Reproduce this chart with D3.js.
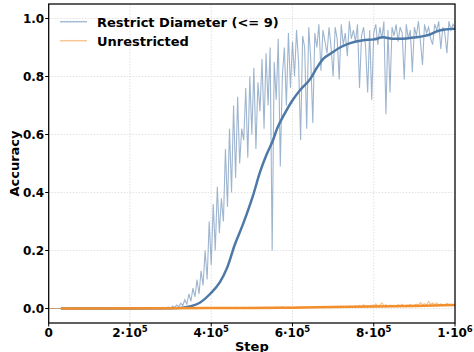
<!DOCTYPE html>
<html>
<head>
<meta charset="utf-8">
<script src="https://d3js.org/d3.v7.min.js"></script>
<style>
  body { margin: 0; background: #fff; }
  text { font-family: "DejaVu Sans", sans-serif; font-weight: bold; }
</style>
</head>
<body>
<div id="chart"></div>
<script>
// raw logging: one value every 5000 steps from 0 to 1e6
const rawStepEvery = 5000;
const restrictRaw = [
  0,0,0,0,0,0,0,0,0,0,
  0,0,0,0,0,0,0,0,0,0,
  0,0,0,0,0,0,0,0,0,0,
  0,0,0,0,0,0,0,0,0,0,
  0,0,0,0,0,0.002,0,0,0,0,
  0,0.003,0,0,0.002,0,0.004,0,0.003,0.005,
  0.002,0.008,0.004,0.012,0.006,0.018,0.01,0.03,0.015,0.05,
  0.025,0.07,0.04,0.1,0.05,0.13,0.08,0.2,0.1,0.3,
  0.15,0.36,0.2,0.42,0.26,0.38,0.3,0.55,0.35,0.62,
  0.4,0.7,0.45,0.73,0.5,0.62,0.58,0.76,0.52,0.8,
  0.6,0.83,0.55,0.78,0.68,0.86,0.62,0.88,0.7,0.9,
  0.2,0.85,0.72,0.93,0.49,0.8,0.9,0.7,0.95,0.76,
  0.92,0.8,0.96,0.85,0.58,0.94,0.9,0.62,0.97,0.86,
  0.64,0.95,0.9,0.98,0.82,0.96,0.92,0.88,0.97,0.9,
  0.8,0.97,0.93,0.79,0.98,0.91,0.95,0.87,0.99,0.93,
  0.96,0.92,0.98,0.76,0.94,0.97,0.9,0.745,0.96,0.72,
  0.95,0.98,0.91,0.97,0.93,0.99,0.67,0.96,0.745,0.97,
  0.94,0.98,0.92,0.97,0.95,0.79,0.98,0.93,0.96,0.815,
  0.97,0.94,0.99,0.92,0.84,0.98,0.95,0.97,0.93,0.91,
  0.98,0.96,0.99,0.895,0.97,0.95,0.88,0.99,0.96,0.98,
  0.97
];
const unrestrictedRaw = [
  0,0,0,0,0,0,0,0,0,0,
  0,0,0,0,0,0,0,0,0,0,
  0,0,0,0,0,0,0,0,0,0,
  0,0,0,0,0,0,0,0,0,0,
  0,0.001,0,0,0.001,0,0,0.001,0,0.001,
  0.001,0,0.001,0.002,0.001,0,0.001,0.002,0.001,0.001,
  0.001,0.002,0.001,0.002,0.003,0.001,0.002,0.002,0.001,0.003,
  0.002,0.001,0.003,0.002,0.002,0.003,0.001,0.002,0.003,0.002,
  0.002,0.003,0.002,0.004,0.002,0.003,0.002,0.003,0.004,0.002,
  0.003,0.002,0.004,0.003,0.002,0.003,0.004,0.002,0.003,0.004,
  0.003,0.004,0.002,0.005,0.003,0.004,0.003,0.005,0.003,0.004,
  0.004,0.003,0.005,0.004,0.003,0.006,0.004,0.003,0.005,0.004,
  0.004,0.005,0.003,0.006,0.004,0.005,0.004,0.006,0.005,0.004,
  0.005,0.004,0.007,0.005,0.006,0.004,0.006,0.005,0.007,0.005,
  0.006,0.005,0.007,0.006,0.008,0.005,0.007,0.006,0.008,0.006,
  0.007,0.009,0.006,0.011,0.007,0.013,0.008,0.01,0.007,0.012,
  0.009,0.016,0.008,0.011,0.019,0.009,0.013,0.008,0.012,0.01,
  0.011,0.009,0.013,0.01,0.015,0.009,0.012,0.011,0.014,0.01,
  0.012,0.015,0.011,0.021,0.013,0.017,0.012,0.024,0.014,0.019,
  0.013,0.02,0.012,0.016,0.014,0.011,0.018,0.013,0.015,0.012,
  0.014
];

// smoothed curves (rolling mean, starts after the window fills)
const restrictSmoothSteps = [30000,100000,200000,300000,330000,350000,372000,397000,421000,439000,458000,478000,503000,520000,536000,552000,562000,580000,601000,620000,643000,660000,675000,695000,717000,742000,774000,800000,823000,845000,865000,885000,906000,925000,938000,956000,975000,1000000];
const restrictSmooth = [0,0,0,0.001,0.003,0.008,0.02,0.05,0.09,0.14,0.22,0.29,0.39,0.47,0.53,0.58,0.62,0.67,0.72,0.755,0.79,0.83,0.86,0.88,0.9,0.915,0.925,0.928,0.935,0.93,0.93,0.932,0.935,0.94,0.945,0.956,0.962,0.965];
const unrestrictedSmoothSteps = [30000,300000,500000,600000,700000,800000,900000,1000000];
const unrestrictedSmooth = [0,0.001,0.002,0.003,0.005,0.007,0.009,0.012];

const seriesNames = ["Restrict Diameter (<= 9)", "Unrestricted"];
const seriesColors = ["#4e79a7", "#f28e2b"];
const xTicks = [0, 200000, 400000, 600000, 800000, 1000000];
const yTicks = [0.0, 0.2, 0.4, 0.6, 0.8, 1.0];

const W = 474, H = 352;
const pLeft = 48.7, pRight = 455, pTop = 4, pBottom = 323;

const svg = d3.select("#chart").append("svg")
  .attr("width", W).attr("height", H);

const x = d3.scaleLinear().domain([0, 1e6]).range([pLeft, pRight]);
const y = d3.scaleLinear().domain([-0.05, 1.05]).range([pBottom, pTop]);

svg.append("clipPath").attr("id", "plot")
  .append("rect").attr("x", pLeft).attr("y", pTop)
  .attr("width", pRight - pLeft).attr("height", pBottom - pTop);

// grid
const grid = svg.append("g").attr("stroke", "#d9d9d9").attr("stroke-width", 0.8)
  .attr("stroke-dasharray", "1.5,1.5");
grid.selectAll("line.gx").data(xTicks).enter().append("line")
  .attr("x1", d => x(d)).attr("x2", d => x(d)).attr("y1", pTop).attr("y2", pBottom);
grid.selectAll("line.gy").data(yTicks).enter().append("line")
  .attr("y1", d => y(d)).attr("y2", d => y(d)).attr("x1", pLeft).attr("x2", pRight);

const rawPts = arr => arr.map((v, i) => [i * rawStepEvery, v]);
const zip = (s, v) => s.map((d, i) => [d, v[i]]);
const line = d3.line().x(d => x(d[0])).y(d => y(d[1]));
const smoothLine = d3.line().x(d => x(d[0])).y(d => y(d[1])).curve(d3.curveMonotoneX);

const plot = svg.append("g").attr("clip-path", "url(#plot)").attr("fill", "none");

plot.append("path").attr("d", line(rawPts(restrictRaw)))
  .attr("stroke", seriesColors[0]).attr("stroke-opacity", 0.55).attr("stroke-width", 1.1);
plot.append("path").attr("d", line(rawPts(unrestrictedRaw)))
  .attr("stroke", seriesColors[1]).attr("stroke-opacity", 0.55).attr("stroke-width", 1.1);
plot.append("path").attr("d", smoothLine(zip(restrictSmoothSteps, restrictSmooth)))
  .attr("stroke", seriesColors[0]).attr("stroke-width", 2.5).attr("stroke-linejoin", "round");
plot.append("path").attr("d", smoothLine(zip(unrestrictedSmoothSteps, unrestrictedSmooth)))
  .attr("stroke", seriesColors[1]).attr("stroke-width", 2.5).attr("stroke-linejoin", "round");

// frame
svg.append("rect").attr("x", pLeft).attr("y", pTop)
  .attr("width", pRight - pLeft).attr("height", pBottom - pTop)
  .attr("fill", "none").attr("stroke", "#000").attr("stroke-width", 1.25);

// y axis
const yAxis = svg.append("g");
yAxis.selectAll("line").data(yTicks).enter().append("line")
  .attr("x1", pLeft - 3.5).attr("x2", pLeft).attr("y1", d => y(d)).attr("y2", d => y(d))
  .attr("stroke", "#000").attr("stroke-width", 1);
yAxis.selectAll("text").data(yTicks).enter().append("text")
  .attr("x", pLeft - 4.5).attr("y", d => y(d)).attr("dy", "0.36em")
  .attr("text-anchor", "end").attr("font-size", 12)
  .text(d => d.toFixed(1));

// x axis
const xAxis = svg.append("g");
xAxis.selectAll("line").data(xTicks).enter().append("line")
  .attr("x1", d => x(d)).attr("x2", d => x(d)).attr("y1", pBottom).attr("y2", pBottom + 3.5)
  .attr("stroke", "#000").attr("stroke-width", 1);
xTicks.forEach(d => {
  const t = xAxis.append("text").attr("x", x(d)).attr("y", 337)
    .attr("text-anchor", "middle").attr("font-size", 12);
  if (d === 0) { t.text("0"); return; }
  const e = Math.floor(Math.log10(d));
  const m = Math.round(d / Math.pow(10, e));
  t.append("tspan").text(m + "\u00b710");
  t.append("tspan").attr("dy", -5).attr("font-size", 8.5).text(e);
});

svg.append("text").attr("x", (pLeft + pRight) / 2).attr("y", 351)
  .attr("text-anchor", "middle").attr("font-size", 13).text("Step");
svg.append("text").attr("transform", `translate(19,${(pTop + pBottom) / 2}) rotate(-90)`)
  .attr("text-anchor", "middle").attr("font-size", 13).text("Accuracy");

// legend
const legend = svg.append("g");
seriesNames.forEach((name, i) => {
  const ly = 21.7 + i * 19;
  legend.append("line").attr("x1", 60).attr("x2", 87).attr("y1", ly).attr("y2", ly)
    .attr("stroke", seriesColors[i]).attr("stroke-opacity", 0.5).attr("stroke-width", 1.5);
  legend.append("text").attr("x", 97).attr("y", ly + 5).attr("font-size", 13).text(name);
});
</script>
</body>
</html>
